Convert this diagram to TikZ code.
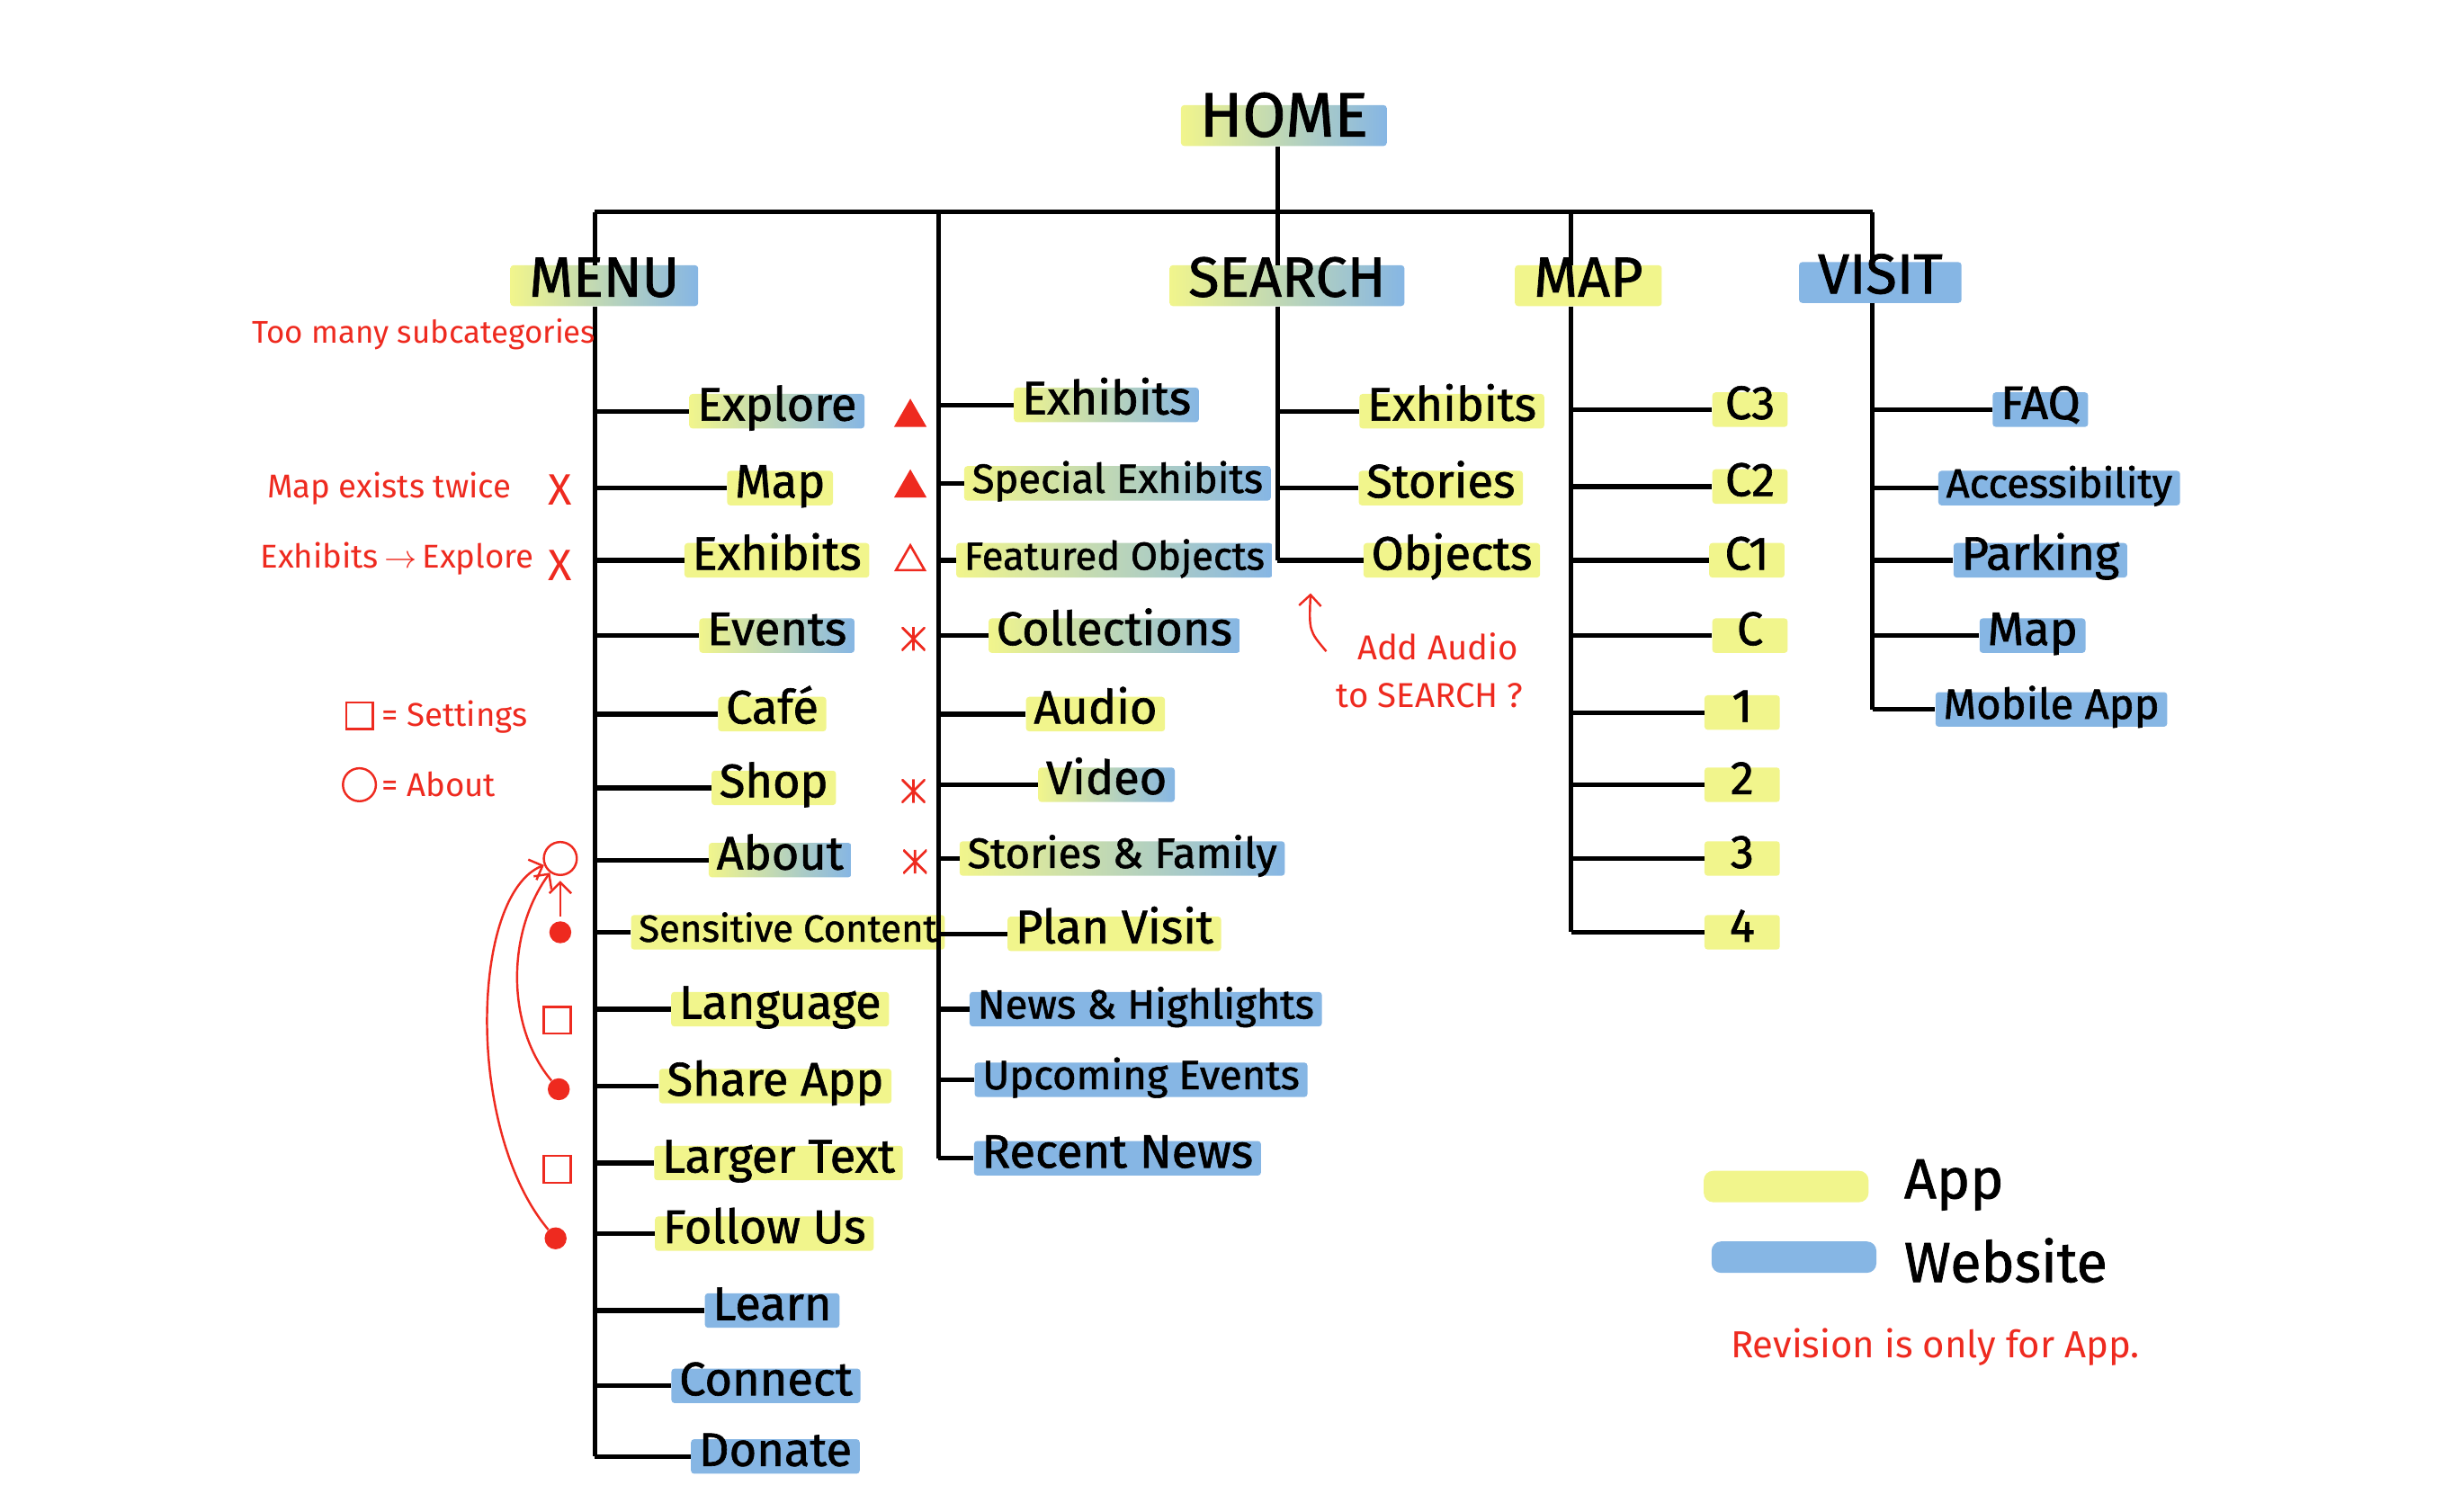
\documentclass[tikz,border=0pt]{standalone}
\usepackage{fontspec}
\newfontfamily\handfont[FakeBold=1.2]{Fira Sans}
\newfontfamily\notefont{Fira Sans}
\usepackage{tikz}
\usetikzlibrary{arrows.meta, shapes.geometric}
\definecolor{appyellow}{HTML}{F1F58C}
\definecolor{webblue}{HTML}{86B6E4}
\definecolor{notered}{HTML}{EE2A1F}

\begin{document}
\begin{tikzpicture}[x=1pt, y=-1pt,
    fs/.style = {font=\handfont\fontsize{#1}{#1}\selectfont},
    nfs/.style = {font=\notefont\fontsize{#1}{#1}\selectfont},
    hand/.style = {fs=30, inner xsep=5pt, inner ysep=2pt, text height=15pt, text depth=3pt, rounded corners=2pt},
    app/.style = {hand, fill=appyellow},
    web/.style = {hand, fill=webblue},
    both/.style = {hand, left color=appyellow, right color=webblue},
    head/.style = {fs=36, inner xsep=12pt, text height=18pt, text depth=4pt},
    digit/.style = {minimum width=48pt},
    trunk/.style = {line width=3pt},
    note/.style = {text=notered, nfs=21, inner sep=1pt},
    notearrow/.style = {draw=notered, line width=1.4pt, -{Straight Barb[length=7pt]}},
    tri/.style = {regular polygon, regular polygon sides=3, draw=notered, line width=1.5pt, minimum size=21pt, inner sep=0pt},
    astmark/.style = {minimum size=15pt, inner sep=0pt, path picture={
        \draw[notered, line width=1.6pt]
            (path picture bounding box.north) -- (path picture bounding box.south)
            (path picture bounding box.north west) -- (path picture bounding box.south east)
            (path picture bounding box.north east) -- (path picture bounding box.south west);}},
    xmark/.style = {text=notered, nfs=28, inner sep=0pt},
    dotmark/.style = {circle, fill=notered, minimum size=14pt, inner sep=0pt},
    ringmark/.style = {circle, draw=notered, line width=1.4pt, minimum size=21pt, inner sep=0pt},
    boxmark/.style = {rectangle, draw=notered, line width=1.4pt, minimum size=17pt, inner sep=0pt},
    keybar/.style = {minimum width=105pt, minimum height=20pt, rounded corners=6pt}]

    \useasboundingbox (0,0) rectangle (1568,963);

    % top level
    \node[both, head, fs=40] (home) at (818,80) {HOME};
    \node[both, head] (menu) at (385,182) {MENU};
    \node[both, head] (search) at (820,182) {SEARCH};
    \node[app, head] (map) at (1012,182) {MAP};
    \node[web, head] (visit) at (1198,180) {VISIT};

    \coordinate (barL) at (379,135);
    \coordinate (barS) at (598,135);
    \coordinate (barM) at (814,135);
    \coordinate (barP) at (1001,135);
    \coordinate (barR) at (1193,135);

    % menu
    \node[both] (explore) at (495,262) {Explore};
    \node[app] (mmap) at (497,311) {Map};
    \node[app] (mexhibits) at (495,357) {Exhibits};
    \node[both] (events) at (495,405) {Events};
    \node[app] (cafe) at (492,455) {Café};
    \node[app] (shop) at (493,502) {Shop};
    \node[both] (about) at (497,548) {About};
    \node[app, fs=24] (sensitive) at (502,594) {Sensitive Content};
    \node[app] (language) at (497,643) {Language};
    \node[app] (share) at (494,692) {Share App};
    \node[app] (larger) at (496,741) {Larger Text};
    \node[app] (follow) at (487,786) {Follow Us};
    \node[web] (learn) at (492,835) {Learn};
    \node[web] (connect) at (488,883) {Connect};
    \node[web] (donate) at (494,928) {Donate};

    % second column
    \node[both] (exhibits) at (705,258) {Exhibits};
    \node[both, fs=26] (special) at (712,308) {Special Exhibits};
    \node[both, fs=25] (featured) at (710,357) {Featured Objects};
    \node[both] (collections) at (710,405) {Collections};
    \node[app] (audio) at (698,455) {Audio};
    \node[both] (video) at (705,500) {Video};
    \node[both, fs=27] (stories) at (715,547) {Stories \& Family};
    \node[app] (plan) at (710,595) {Plan Visit};
    \node[web, fs=26] (news) at (730,643) {News \& Highlights};
    \node[web, fs=26] (upcoming) at (727,688) {Upcoming Events};
    \node[web] (recent) at (712,738) {Recent News};

    % search
    \node[app] (sexhibits) at (925,262) {Exhibits};
    \node[app] (sstories) at (918,311) {Stories};
    \node[app] (sobjects) at (925,357) {Objects};

    % map
    \node[app, digit] (cthree) at (1115,261) {C3};
    \node[app, digit] (ctwo) at (1115,310) {C2};
    \node[app, digit] (cone) at (1113,357) {C1};
    \node[app, digit] (czero) at (1115,405) {C};
    \node[app, digit] (one) at (1110,454) {1};
    \node[app, digit] (two) at (1110,500) {2};
    \node[app, digit] (three) at (1110,547) {3};
    \node[app, digit] (four) at (1110,594) {4};

    % visit
    \node[web] (faq) at (1300,261) {FAQ};
    \node[web, fs=26] (access) at (1312,311) {Accessibility};
    \node[web] (parking) at (1300,357) {Parking};
    \node[web] (vmap) at (1295,405) {Map};
    \node[web, fs=27] (mobile) at (1307,452) {Mobile App};

    % tree lines
    \draw[trunk] (barM |- home.south) -- (barM);
    \draw[trunk] (barL) -- (barR);
    \draw[trunk] (barL) -- (barL |- menu.north);
    \draw[trunk] (barM) -- (barM |- search.north);
    \draw[trunk] (barP) -- (barP |- map.north);
    \draw[trunk] (barR) -- (barR |- visit.north);
    \draw[trunk] (barL |- menu.south) -- (barL |- donate.west);
    \draw[trunk] (barS) -- (barS |- recent.west);
    \draw[trunk] (barM |- search.south) -- (barM |- sobjects.west);
    \draw[trunk] (barP |- map.south) -- (barP |- four.west);
    \draw[trunk] (barR |- visit.south) -- (barR |- mobile.west);

    \draw[trunk] (barL |- explore.west) -- (explore.west);
    \draw[trunk] (barL |- mmap.west) -- (mmap.west);
    \draw[trunk] (barL |- mexhibits.west) -- (mexhibits.west);
    \draw[trunk] (barL |- events.west) -- (events.west);
    \draw[trunk] (barL |- cafe.west) -- (cafe.west);
    \draw[trunk] (barL |- shop.west) -- (shop.west);
    \draw[trunk] (barL |- about.west) -- (about.west);
    \draw[trunk] (barL |- sensitive.west) -- (sensitive.west);
    \draw[trunk] (barL |- language.west) -- (language.west);
    \draw[trunk] (barL |- share.west) -- (share.west);
    \draw[trunk] (barL |- larger.west) -- (larger.west);
    \draw[trunk] (barL |- follow.west) -- (follow.west);
    \draw[trunk] (barL |- learn.west) -- (learn.west);
    \draw[trunk] (barL |- connect.west) -- (connect.west);
    \draw[trunk] (barL |- donate.west) -- (donate.west);

    \draw[trunk] (barS |- exhibits.west) -- (exhibits.west);
    \draw[trunk] (barS |- special.west) -- (special.west);
    \draw[trunk] (barS |- featured.west) -- (featured.west);
    \draw[trunk] (barS |- collections.west) -- (collections.west);
    \draw[trunk] (barS |- audio.west) -- (audio.west);
    \draw[trunk] (barS |- video.west) -- (video.west);
    \draw[trunk] (barS |- stories.west) -- (stories.west);
    \draw[trunk] (barS |- plan.west) -- (plan.west);
    \draw[trunk] (barS |- news.west) -- (news.west);
    \draw[trunk] (barS |- upcoming.west) -- (upcoming.west);
    \draw[trunk] (barS |- recent.west) -- (recent.west);

    \draw[trunk] (barM |- sexhibits.west) -- (sexhibits.west);
    \draw[trunk] (barM |- sstories.west) -- (sstories.west);
    \draw[trunk] (barM |- sobjects.west) -- (sobjects.west);

    \draw[trunk] (barP |- cthree.west) -- (cthree.west);
    \draw[trunk] (barP |- ctwo.west) -- (ctwo.west);
    \draw[trunk] (barP |- cone.west) -- (cone.west);
    \draw[trunk] (barP |- czero.west) -- (czero.west);
    \draw[trunk] (barP |- one.west) -- (one.west);
    \draw[trunk] (barP |- two.west) -- (two.west);
    \draw[trunk] (barP |- three.west) -- (three.west);
    \draw[trunk] (barP |- four.west) -- (four.west);

    \draw[trunk] (barR |- faq.west) -- (faq.west);
    \draw[trunk] (barR |- access.west) -- (access.west);
    \draw[trunk] (barR |- parking.west) -- (parking.west);
    \draw[trunk] (barR |- vmap.west) -- (vmap.west);
    \draw[trunk] (barR |- mobile.west) -- (mobile.west);

    % red notes
    \node[note, nfs=20] (toomany) at (270,213) {Too many subcategories};
    \node[note] (maptwice) at (248,311) {Map exists twice};
    \node[note] (exhexp) at (253,356) {Exhibits\,$\rightarrow$\,Explore};
    \node[xmark] (xone) at (357,312) {X};
    \node[xmark] (xtwo) at (357,360) {X};

    \node[tri, fill=notered] (triA) at (580,266) {};
    \node[tri, fill=notered] (triB) at (580,311) {};
    \node[tri] (triC) at (580,358) {};
    \node[astmark] (astA) at (582,407) {};
    \node[astmark] (astB) at (582,504) {};
    \node[astmark] (astC) at (583,549) {};

    \node[boxmark] (setkey) at (229,456) {};
    \node[note, anchor=west] (setnote) at (242,457) {= Settings};
    \node[ringmark] (aboutkey) at (229,500) {};
    \node[note, anchor=west] (aboutnote) at (242,500) {= About};

    \node[ringmark] (aboutmark) at (357,547) {};
    \node[dotmark] (dotsens) at (357,594) {};
    \node[boxmark] (boxlang) at (355,650) {};
    \node[dotmark] (dotshare) at (356,694) {};
    \node[boxmark] (boxlarger) at (355,745) {};
    \node[dotmark] (dotfollow) at (354,789) {};

    \draw[notearrow, shorten <=3pt, shorten >=3pt] (dotsens) -- (aboutmark);
    \draw[notearrow] (dotshare) .. controls (323,655) and (322,595) .. (aboutmark);
    \draw[notearrow] (dotfollow) .. controls (296,720) and (300,570) .. (aboutmark);

    \node[note, nfs=22] (asknote) at (916,412) {Add Audio};
    \node[note, nfs=22] (asknotetwo) at (911,443) {to SEARCH ?};
    \coordinate (asktail) at (845,415);
    \coordinate (asktip) at (835,378);
    \draw[notearrow] (asktail) .. controls (834,402) .. (asktip);

    % legend
    \node[keybar, fill=appyellow] (appkey) at (1138,756) {};
    \node[keybar, fill=webblue] (webkey) at (1143,801) {};
    \node[fs=36, anchor=west, inner sep=0pt] (applabel) at (1213,755) {App};
    \node[fs=36, anchor=west, inner sep=0pt] (weblabel) at (1213,803) {Website};
    \node[note, nfs=24] (revnote) at (1233,858) {Revision is only for App.};
\end{tikzpicture}
\end{document}
